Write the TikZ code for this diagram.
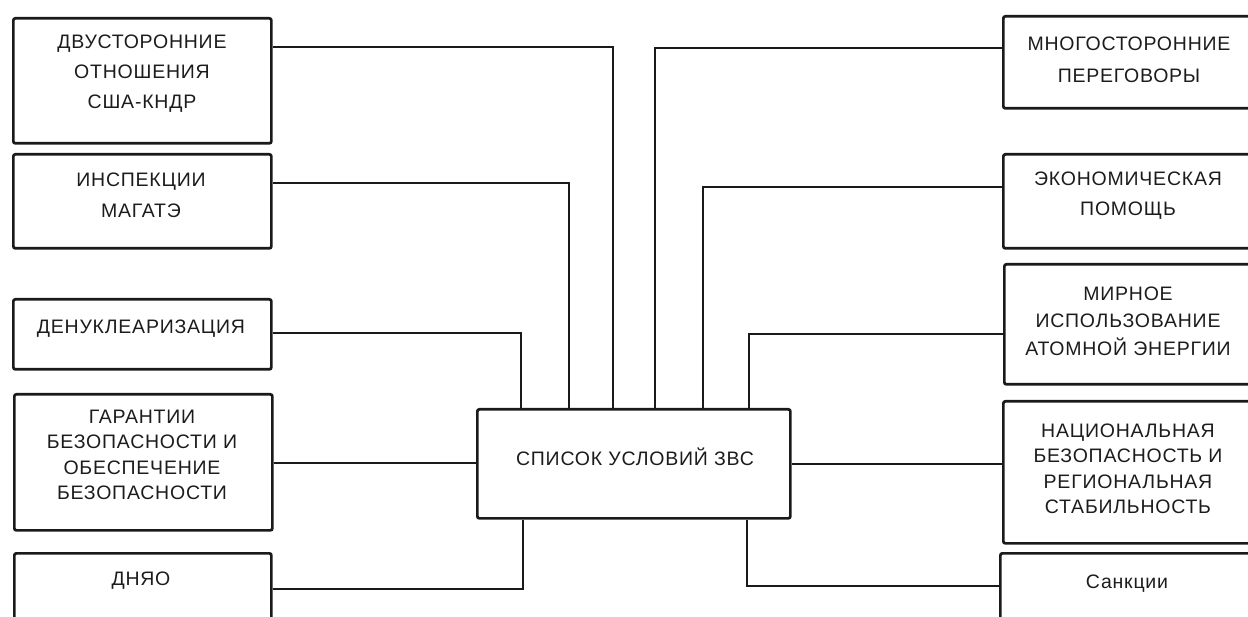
\documentclass[tikz,border=0pt]{standalone}
\usepackage{fontspec}
\setmainfont{Liberation Sans}[LetterSpace=4]
\definecolor{linec}{HTML}{1A1A1A}
\definecolor{textc}{HTML}{1C1C1C}
\begin{document}
\begin{tikzpicture}[x=1pt,y=-1pt,
  box/.style={draw=linec, line width=2.7pt, rounded corners=2pt, rectangle, inner sep=0pt, anchor=north west},
  txt/.style={align=center, text=textc, inner sep=0pt, font=\fontsize{19.5}{#1}\selectfont},
  txt/.default=30,
  conn/.style={draw=linec, line width=2.7pt}]
\useasboundingbox (0,0) rectangle (1248,617);
\clip (0,0) rectangle (1248,617);
% left boxes
\node[box, minimum width=258pt, minimum height=125pt] (l1) at (12,17) {};
\node[box, minimum width=258pt, minimum height=94pt] (l2) at (12,153) {};
\node[box, minimum width=258pt, minimum height=70pt] (l3) at (12,298) {};
\node[box, minimum width=258pt, minimum height=136pt] (l4) at (13,393) {};
\node[box, minimum width=257pt, minimum height=120pt] (l5) at (13,552) {};
% centre
\node[box, minimum width=313pt, minimum height=109pt] (c) at (476,408) {};
% right boxes
\node[box, minimum width=260pt, minimum height=92pt] (r1) at (1002,15) {};
\node[box, minimum width=260pt, minimum height=94pt] (r2) at (1002,153) {};
\node[box, minimum width=260pt, minimum height=120pt] (r3) at (1003,263) {};
\node[box, minimum width=260pt, minimum height=142pt] (r4) at (1002,400) {};
\node[box, minimum width=260pt, minimum height=120pt] (r5) at (999,552) {};
% texts
\node[txt] (t1) at (142,74) {ДВУСТОРОННИЕ\\ОТНОШЕНИЯ\\США-КНДР};
\node[txt=31] (t2) at (141,195) {ИНСПЕКЦИИ\\МАГАТЭ};
\node[txt] (t3) at (141,329) {ДЕНУКЛЕАРИЗАЦИЯ};
\node[txt=25.5] (t4) at (142,455) {ГАРАНТИИ\\БЕЗОПАСНОСТИ И\\ОБЕСПЕЧЕНИЕ\\БЕЗОПАСНОСТИ};
\node[txt] (t5) at (141,581) {ДНЯО};
\node[txt] (tc) at (635,457) {СПИСОК УСЛОВИЙ ЗВС};
\node[txt=32] (u1) at (1129,60) {МНОГОСТОРОННИЕ\\ПЕРЕГОВОРЫ};
\node[txt] (u2) at (1128,196) {ЭКОНОМИЧЕСКАЯ\\ПОМОЩЬ};
\node[txt=27.5] (u3) at (1128,321) {МИРНОЕ\\ИСПОЛЬЗОВАНИЕ\\АТОМНОЙ ЭНЕРГИИ};
\node[txt=25.5] (u4) at (1128,469) {НАЦИОНАЛЬНАЯ\\БЕЗОПАСНОСТЬ И\\РЕГИОНАЛЬНАЯ\\СТАБИЛЬНОСТЬ};
\node[txt] (u5) at (1127,584) {Санкции};
% connector start points on box edges
\coordinate (a1) at (l1.east |- 0,47);
\coordinate (a2) at (l2.east |- 0,183);
\coordinate (a3) at (l3.east |- 0,333);
\coordinate (a4) at (l4.east |- 0,463);
\coordinate (a5) at (l5.east |- 0,589);
\coordinate (b1) at (r1.west |- 0,48);
\coordinate (b2) at (r2.west |- 0,187);
\coordinate (b3) at (r3.west |- 0,334);
\coordinate (b4) at (r4.west |- 0,464);
\coordinate (b5) at (r5.west |- 0,586);
% connectors
\draw[conn] (a1) -| (c.north -| 613,0);
\draw[conn] (a2) -| (c.north -| 569,0);
\draw[conn] (a3) -| (c.north -| 521,0);
\draw[conn] (a4) -- (c.west |- a4);
\draw[conn] (a5) -| (c.south -| 523,0);
\draw[conn] (b1) -| (c.north -| 655,0);
\draw[conn] (b2) -| (c.north -| 703,0);
\draw[conn] (b3) -| (c.north -| 749,0);
\draw[conn] (b4) -- (c.east |- b4);
\draw[conn] (b5) -| (c.south -| 747,0);
\end{tikzpicture}
\end{document}
